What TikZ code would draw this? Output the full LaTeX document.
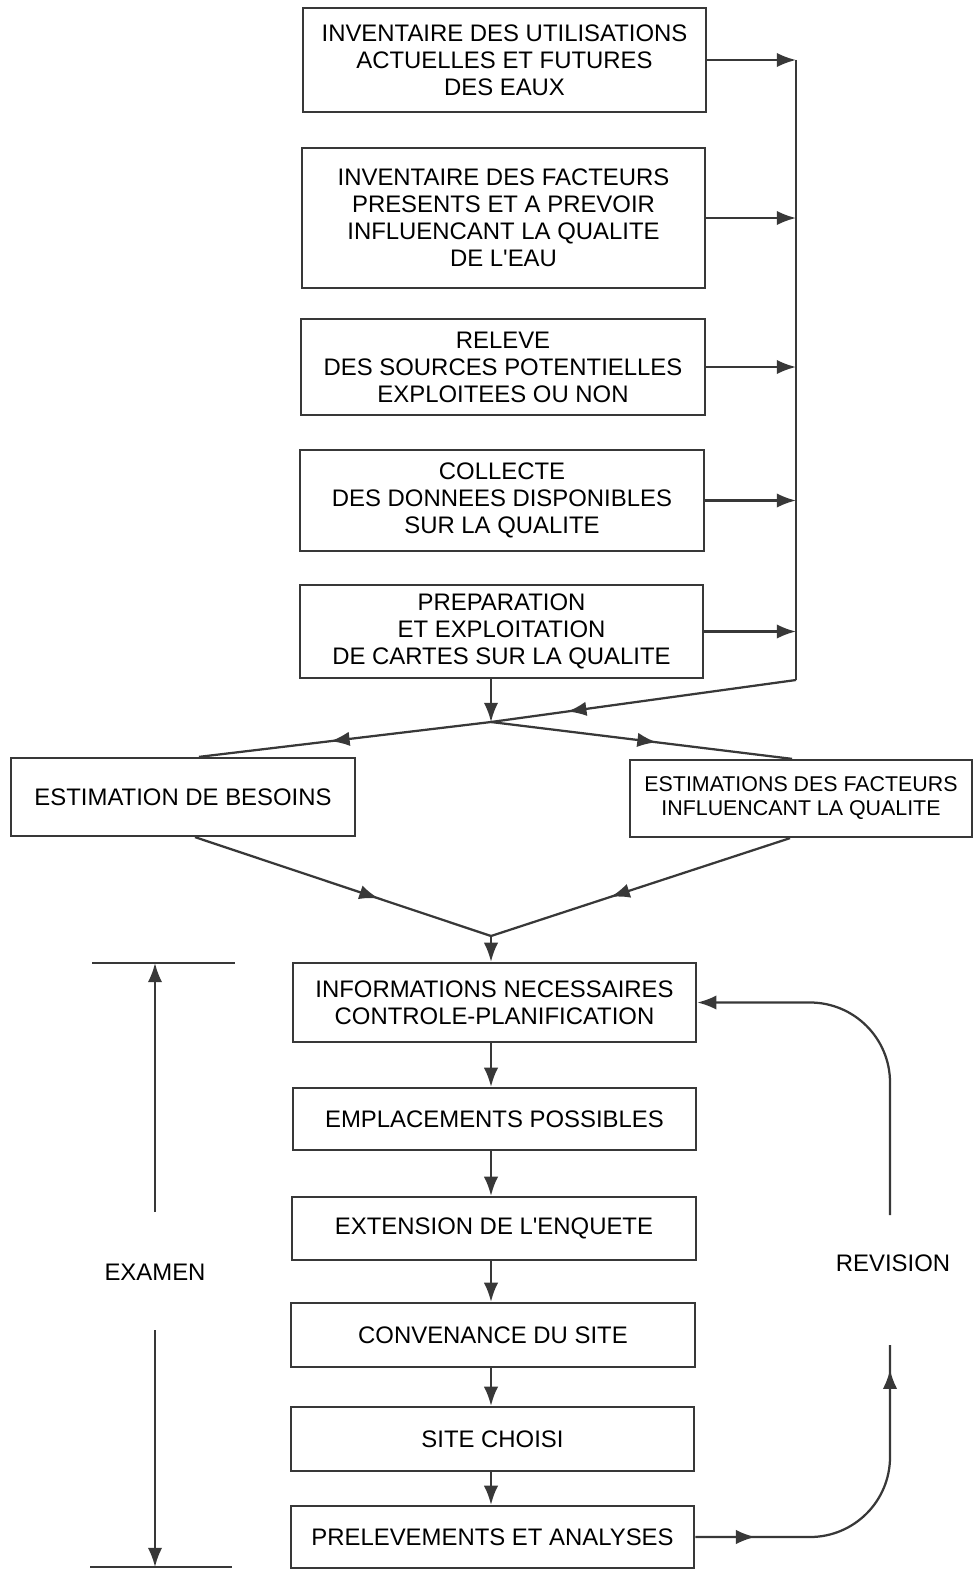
\documentclass[tikz,border=0pt]{standalone}
\usepackage{fontspec}
\setmainfont{Liberation Sans}
\usetikzlibrary{arrows.meta,decorations.markings}
\definecolor{cLine}{HTML}{383838}
\tikzset{
  stage/.style={rectangle, draw=cLine, line width=1.6pt, align=center, inner sep=0pt, minimum width=10.08cm, font=\fontsize{17}{19.2}\selectfont},
  wire/.style={draw=cLine, line width=1.6pt},
  flow/.style={wire, -{Latex[length=4.8mm, width=3.6mm]}},
  midarr/.style={postaction={decorate, decoration={markings, mark=at position #1 with {\arrow{Latex[length=4.8mm, width=3.6mm]}}}}},
  lbl/.style={font=\fontsize{17}{19.2}\selectfont, inner sep=0pt},
}
\begin{document}
\begin{tikzpicture}[x=0.025cm, y=-0.025cm]
  \useasboundingbox (0,0) rectangle (974,1571);
  \node[stage, minimum height=2.6cm] (inv) at (504.5,60) {INVENTAIRE DES UTILISATIONS\\ACTUELLES ET FUTURES\\DES EAUX};
  \node[stage, minimum height=3.5cm] (fac) at (503.5,218) {INVENTAIRE DES FACTEURS\\PRESENTS ET A PREVOIR\\INFLUENCANT LA QUALITE\\DE L\textquotesingle EAU};
  \node[stage, minimum height=2.4cm] (rel) at (503,367) {RELEVE\\DES SOURCES POTENTIELLES\\EXPLOITEES OU NON};
  \node[stage, minimum height=2.525cm] (col) at (502,500.5) {COLLECTE\\DES DONNEES DISPONIBLES\\SUR LA QUALITE};
  \node[stage, minimum height=2.325cm] (prep) at (501.5,631.5) {PREPARATION\\ET EXPLOITATION\\DE CARTES SUR LA QUALITE};
  \node[stage, minimum width=8.6cm, minimum height=1.95cm] (bes) at (183,797) {ESTIMATION DE BESOINS};
  \node[stage, minimum width=8.55cm, minimum height=1.925cm, font=\fontsize{15.2}{17.1}\selectfont] (est) at (801,798.5) {ESTIMATIONS DES FACTEURS\\INFLUENCANT LA QUALITE};
  \node[stage, minimum height=1.975cm] (info) at (494.5,1002.5) {INFORMATIONS NECESSAIRES\\CONTROLE-PLANIFICATION};
  \node[stage, minimum height=1.55cm] (empl) at (494.5,1119) {EMPLACEMENTS POSSIBLES};
  \node[stage, minimum height=1.575cm] (ext) at (494,1228.5) {EXTENSION DE L\textquotesingle ENQUETE};
  \node[stage, minimum height=1.6cm] (conv) at (493,1335) {CONVENANCE DU SITE};
  \node[stage, minimum height=1.6cm] (site) at (492.5,1439) {SITE CHOISI};
  \node[stage, minimum height=1.55cm] (prel) at (492.5,1537) {PRELEVEMENTS ET ANALYSES};
  \node[lbl] (rev) at (893,1263) {REVISION};
  \node[lbl] (exam) at (155,1272) {EXAMEN};
  \coordinate (bustop) at (796,60);
  \coordinate (bus) at (796,680);
  \coordinate (mrg) at (491,722);
  \coordinate (join) at (491,936);
  \coordinate (rvup) at (890,1215);
  \coordinate (rvdn) at (890,1345);
  \coordinate (exa) at (155,963);
  \coordinate (exb) at (155,1567);
  \coordinate (exu) at (155,1212);
  \coordinate (exd) at (155,1330);
  \foreach \n in {inv,fac,rel,col,prep}
    \draw[flow] (\n.east) -- (\n.east -| bus);
  \draw[wire] (bustop) -- (bus);
  \draw[wire, midarr=0.75] (bus) -- (mrg);
  \draw[flow] (prep.south -| mrg) -- (mrg);
  \draw[wire, midarr=0.55] (mrg) -- ([xshift=0.4cm]bes.north);
  \draw[wire, midarr=0.55] (mrg) -- ([xshift=-0.225cm]est.north);
  \draw[wire, midarr=0.62] ([xshift=0.3cm]bes.south) -- (join);
  \draw[wire, midarr=0.6] ([xshift=-0.275cm]est.south) -- (join);
  \draw[flow] (join) -- (info.north -| join);
  \foreach \a/\b in {info/empl, empl/ext, ext/conv, conv/site, site/prel}
    \draw[flow] (\a.south -| join) -- (\b.north -| join);
  \draw[wire, rounded corners=2cm, midarr=0.17, midarr=0.93] (prel.east) -- (prel.east -| rvdn) -- (rvdn);
  \draw[flow, rounded corners=2cm] (rvup) -- (rvup |- info.east) -- (info.east);
  \draw[wire] (exa) ++(-63,0) -- ++(143,0);
  \draw[wire] (exb) ++(-65,0) -- ++(142,0);
  \draw[flow] (exu) -- (exa);
  \draw[flow] (exd) -- (exb);
\end{tikzpicture}
\end{document}
